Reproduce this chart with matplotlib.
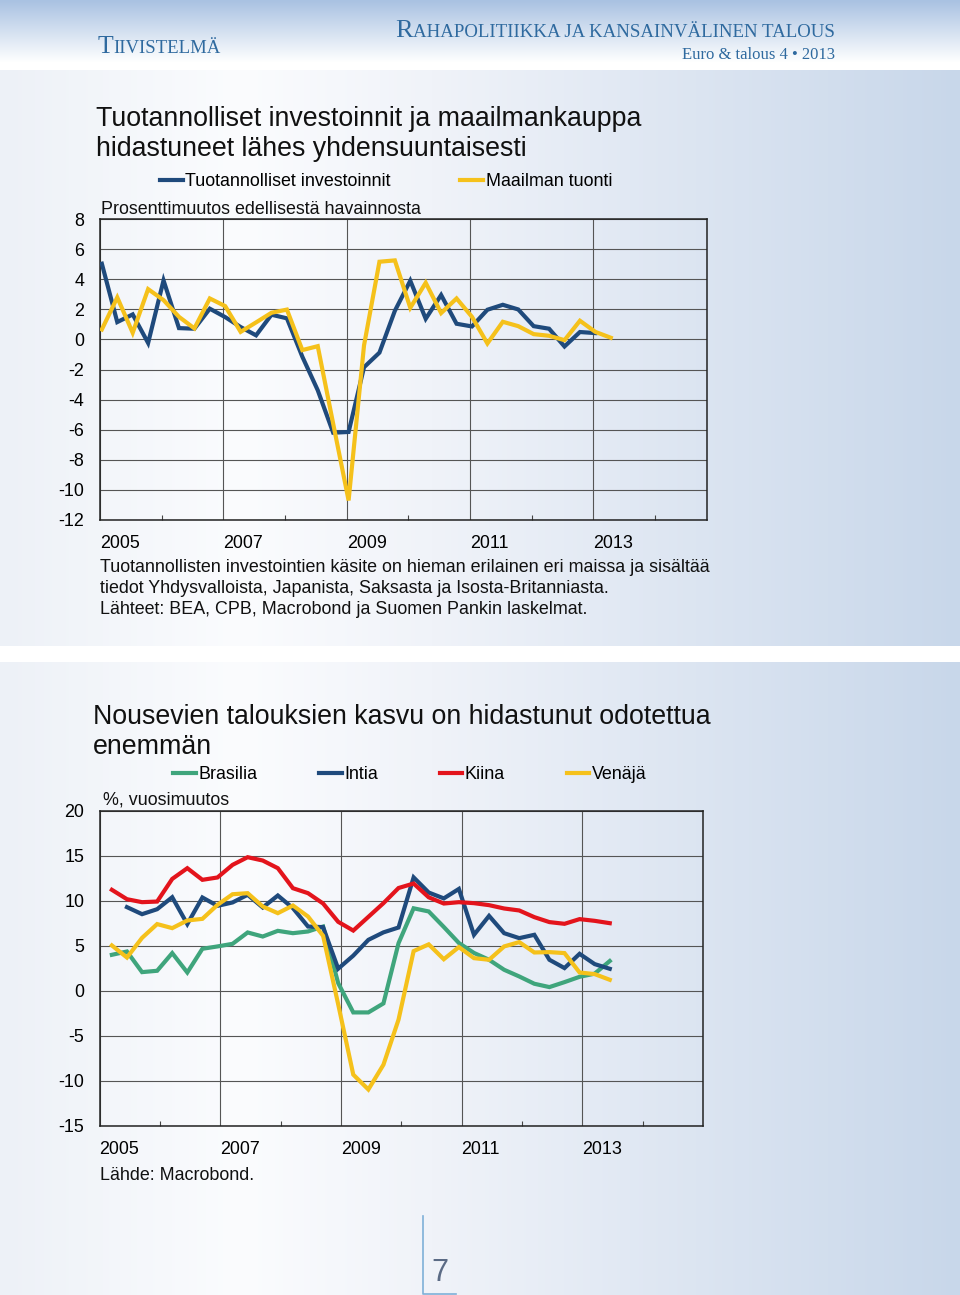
import numpy as np
import matplotlib
matplotlib.use("Agg")
import matplotlib.pyplot as plt

FS = 12.9
plt.rcParams["font.family"] = ["Liberation Sans", "DejaVu Sans"]
plt.rcParams["font.size"] = FS

# --- chart 1: quarterly change, %, from 2005Q1 ---
invest = [5.03, 1.15, 1.66, -0.24, 3.92, 0.75, 0.71, 2.04, 1.48, 0.82, 0.27,
          1.64, 1.4, -1.15, -3.38, -6.2, -6.15, -1.85, -0.88, 1.9, 3.9, 1.37,
          2.95, 1.04, 0.86, 1.97, 2.3, 1.99, 0.88, 0.71, -0.47, 0.49, 0.42]
world_trade = [0.66, 2.79, 0.44, 3.34, 2.61, 1.5, 0.73, 2.72, 2.21, 0.5, 1.13,
               1.77, 1.98, -0.71, -0.45, -5.6, -10.7, -0.4, 5.16, 5.25, 2.1,
               3.76, 1.75, 2.72, 1.5, -0.27, 1.17, 0.88, 0.35, 0.24, -0.05,
               1.24, 0.5, 0.11]

# --- chart 2: year-on-year growth, %, from 2005Q1 ---
brazil = [3.99, 4.36, 2.07, 2.22, 4.18, 2.03, 4.66, 4.92, 5.21, 6.47, 6.02,
          6.65, 6.39, 6.58, 7.13, 0.85, -2.4, -2.4, -1.4, 5.28, 9.15, 8.8,
          7.08, 5.3, 4.2, 3.44, 2.33, 1.59, 0.78, 0.41, 0.96, 1.55, 1.9, 3.3]
india = [np.nan, 9.28, 8.5, 9.05, 10.38, 7.4, 10.35, 9.42, 9.8, 10.65, 9.24,
         10.57, 9.17, 7.13, 7.06, 2.45, 3.9, 5.65, 6.48, 7.02, 12.58, 10.9,
         10.25, 11.3, 6.21, 8.31, 6.39, 5.84, 6.21, 3.44, 2.52, 4.1, 2.96, 2.44]
china = [11.2, 10.16, 9.83, 9.9, 12.41, 13.6, 12.31, 12.57, 13.97, 14.82,
         14.45, 13.6, 11.38, 10.83, 9.68, 7.65, 6.68, 8.2, 9.72, 11.4, 11.9,
         10.37, 9.68, 9.83, 9.72, 9.5, 9.13, 8.91, 8.17, 7.62, 7.43, 7.95,
         7.76, 7.5]
russia = [5.03, 3.69, 5.87, 7.4, 6.95, 7.8, 7.98, 9.53, 10.71, 10.83, 9.35,
          8.61, 9.46, 8.24, 6.1, -1.5, -9.3, -10.95, -8.2, -3.2, 4.4, 5.15,
          3.5, 4.85, 3.62, 3.44, 4.92, 5.4, 4.25, 4.29, 4.18, 2.03, 1.85, 1.22]

year_ticks = [2005, 2007, 2009, 2011, 2013]
year_labels = ["2005", "2007", "2009", "2011", "2013"]
minor_years = [2006, 2008, 2010, 2012, 2014]
y1_ticks = list(range(-12, 9, 2))
y2_ticks = list(range(-15, 21, 5))

BLUE = "#1f4a7c"
YELLOW = "#f5c11b"
RED = "#e3141c"
GREEN = "#3fa57c"
HEAD = "#2f6a9f"
TXT = "#111111"
TITLE_FS = 19.3

W, H = 960, 1295
fig = plt.figure(figsize=(W / 100, H / 100), dpi=100)

# page background
ax_bg = fig.add_axes([0, 0, 1, 1])
ax_bg.set_xlim(0, W)
ax_bg.set_ylim(H, 0)
ax_bg.axis("off")


def hex_rgb(c):
    return np.array([int(c[i:i + 2], 16) for i in (1, 3, 5)]) / 255.0


xs = np.arange(W) / (W - 1)
stops = [0.0, 0.25, 0.45, 1.0]
cols = [hex_rgb("#edf1f7"), hex_rgb("#fbfcfe"), hex_rgb("#f0f3f9"), hex_rgb("#c8d7ea")]
row = np.stack([np.interp(xs, stops, [c[k] for c in cols]) for k in range(3)], axis=1)
img = np.tile(row, (H, 1, 1))
# header band
top = hex_rgb("#a9c2e2")
for yy in range(70):
    f = min(yy / 62.0, 1.0)
    img[yy] = top * (1 - f) + np.ones(3) * f
img[646:662] = 1.0
ax_bg.imshow(img, extent=[0, W, H, 0], aspect="auto", zorder=0)

r = fig.canvas.get_renderer()


def small_caps(x, y, first, rest, big, small, ha="left"):
    kw = dict(family=["Liberation Serif", "DejaVu Serif"], color=HEAD, va="baseline")
    inv = ax_bg.transData.inverted()
    if ha == "left":
        t1 = ax_bg.text(x, y, first, fontsize=big, ha="left", **kw)
        bb = t1.get_window_extent(r)
        ax_bg.text(inv.transform((bb.x1, 0))[0], y, rest, fontsize=small, ha="left", **kw)
    else:
        t2 = ax_bg.text(x, y, rest, fontsize=small, ha="right", **kw)
        bb = t2.get_window_extent(r)
        ax_bg.text(inv.transform((bb.x0, 0))[0], y, first, fontsize=big, ha="right", **kw)


small_caps(98, 53, "T", "IIVISTELMÄ", 18.5, 13.5)
small_caps(835, 37, "R", "AHAPOLITIIKKA JA KANSAINVÄLINEN TALOUS", 18.8, 13.6, ha="right")
ax_bg.text(835, 59, "Euro & talous 4 • 2013", ha="right", va="baseline", fontsize=12,
           family=["Liberation Serif", "DejaVu Serif"], color=HEAD)

# titles and notes
ax_bg.text(96, 118.5, "Tuotannolliset investoinnit ja maailmankauppa", fontsize=TITLE_FS,
           va="center", color=TXT)
ax_bg.text(96, 148.5, "hidastuneet lähes yhdensuuntaisesti", fontsize=TITLE_FS,
           va="center", color=TXT)
ax_bg.text(101, 210, "Prosenttimuutos edellisestä havainnosta", va="center", color=TXT)
notes1 = ["Tuotannollisten investointien käsite on hieman erilainen eri maissa ja sisältää",
          "tiedot Yhdysvalloista, Japanista, Saksasta ja Isosta-Britanniasta.",
          "Lähteet: BEA, CPB, Macrobond ja Suomen Pankin laskelmat."]
for k, line in enumerate(notes1):
    ax_bg.text(100, 568 + k * 20.5, line, va="center", color=TXT)

ax_bg.text(93, 717.5, "Nousevien talouksien kasvu on hidastunut odotettua", fontsize=TITLE_FS,
           va="center", color=TXT)
ax_bg.text(93, 747.5, "enemmän", fontsize=TITLE_FS, va="center", color=TXT)
ax_bg.text(103, 800, "%, vuosimuutos", va="center", color=TXT)
ax_bg.text(100, 1176, "Lähde: Macrobond.", va="center", color=TXT)

# page number
ax_bg.plot([423, 423, 456], [1216, 1294, 1294], color="#7fb0d8", lw=1.2)
ax_bg.text(440, 1273, "7", ha="center", va="center", fontsize=22, color="#5b6b85",
           family=["Liberation Sans Narrow", "Liberation Sans"])


def style_axes(ax, xlim, yticks, pad_y):
    ax.set_facecolor("none")
    ax.set_xlim(*xlim)
    ax.set_ylim(yticks[0], yticks[-1])
    ax.set_yticks(yticks)
    ax.set_yticklabels([str(v) for v in yticks])
    ax.set_xticks(year_ticks)
    ax.set_xticklabels(year_labels)
    for lbl in ax.get_xticklabels():
        lbl.set_horizontalalignment("left")
    ax.set_xticks(minor_years, minor=True)
    ax.tick_params(axis="y", length=0, pad=pad_y, labelsize=FS)
    ax.tick_params(axis="x", which="major", length=0, pad=11, labelsize=FS)
    ax.tick_params(axis="x", which="minor", direction="in", length=3.6,
                   width=0.8, color="#444444")
    ax.grid(True, which="major", color="#555555", lw=0.8)
    ax.set_axisbelow(True)
    for s in ax.spines.values():
        s.set_color("#222222")
        s.set_linewidth(1.1)


# chart 1
ax1 = fig.add_axes([100 / W, 1 - 520 / H, 607 / W, 301 / H])
q1 = 2005.03 + 0.25 * np.arange(len(world_trade))
l_inv, = ax1.plot(q1[:len(invest)], invest, color=BLUE, lw=3, label="Tuotannolliset investoinnit",
                  solid_joinstyle="miter", zorder=3)
l_wt, = ax1.plot(q1, world_trade, color=YELLOW, lw=3, label="Maailman tuonti",
                 solid_joinstyle="miter", zorder=3)
style_axes(ax1, (2005, 2014.84), y1_ticks, 11.5)
fig.legend(handles=[l_inv, l_wt], loc="center left", bbox_to_anchor=(160, 181.5),
           bbox_transform=ax_bg.transData, ncol=2, frameon=False, borderpad=0,
           borderaxespad=0, handlelength=1.28, handletextpad=0.12, columnspacing=3.9,
           fontsize=FS)

# chart 2
ax2 = fig.add_axes([99.5 / W, 1 - 1126 / H, 603.5 / W, 315.5 / H])
q2 = 2005.205 + 0.25 * np.arange(len(china))
lines2 = []
for vals, col, name in [(brazil, GREEN, "Brasilia"), (india, BLUE, "Intia"),
                        (china, RED, "Kiina"), (russia, YELLOW, "Venäjä")]:
    ln, = ax2.plot(q2, vals, color=col, lw=3, label=name, solid_joinstyle="miter", zorder=3)
    lines2.append(ln)
style_axes(ax2, (2005, 2015), y2_ticks, 11)
fig.legend(handles=lines2, loc="center left", bbox_to_anchor=(173, 774.5),
           bbox_transform=ax_bg.transData, ncol=4, frameon=False, borderpad=0,
           borderaxespad=0, handlelength=1.28, handletextpad=0.12, columnspacing=3.45,
           fontsize=FS)

fig.savefig("out.png", dpi=100)
